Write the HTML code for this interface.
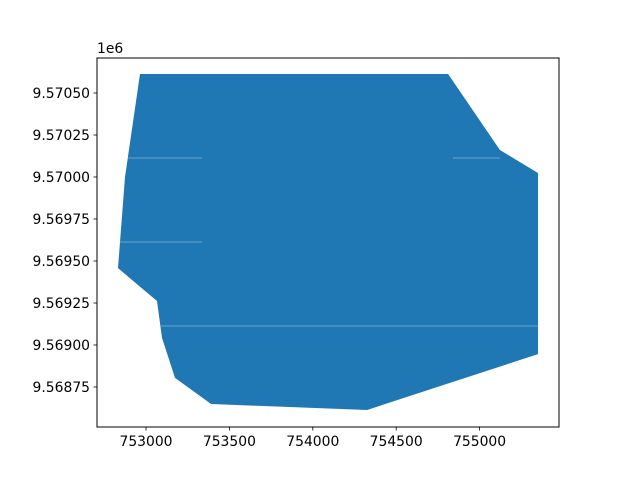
<!DOCTYPE html>
<html><head><meta charset="utf-8"><style>
body{margin:0;background:#fff;}
svg{display:block;font-family:"DejaVu Sans","Liberation Sans",sans-serif;}
</style></head><body>
<svg id="chart" width="640" height="480"></svg>
<script>
const xTicks=[753000,753500,754000,754500,755000];
const yTicks=[9568750,9569000,9569250,9569500,9569750,9570000,9570250,9570500];
const yTickLabels=["9.56875","9.56900","9.56925","9.56950","9.56975","9.57000","9.57025","9.57050"];
const polyX=[752964,754811,755122,755350,755350,754325,753390,753174,753096,753066,752832,752874];
const polyY=[9570613,9570613,9570161,9570024,9568946,9568613,9568649,9568804,9569042,9569262,9569458,9570000];
const seamY=[9570113,9570113,9569613,9569113];
const seamX0=[752880,754840,752838,753090];
const seamX1=[753336,755122,753336,755350];

const L=97,R=559,T=58,B=427;
const sx=v=>146+(v-753000)*0.1668;
const sy=v=>93-(v-9570500)*0.168;
const NS="http://www.w3.org/2000/svg";
const svg=document.getElementById('chart');
function mk(t,a){const e=document.createElementNS(NS,t);for(const k in a)e.setAttribute(k,a[k]);svg.appendChild(e);return e;}

let pts=polyX.map((x,i)=>sx(x).toFixed(1)+","+sy(polyY[i]).toFixed(1)).join(" ");
const poly=mk('polygon',{points:pts,fill:'#1f77b4'});


for(let i=0;i<seamY.length;i++){
  const l=mk('line',{x1:sx(seamX0[i]),x2:sx(seamX1[i]),y1:sy(seamY[i]),y2:sy(seamY[i]),stroke:'rgba(255,255,255,0.45)','stroke-width':0.8});
  
  
}
const fr=mk('rect',{x:L,y:T,width:R-L,height:B-T,fill:'none',stroke:'#000','stroke-width':1});


xTicks.forEach(v=>{
  const x=sx(v);
  const t=mk('line',{x1:x,x2:x,y1:B,y2:B+3.5,stroke:'#000','stroke-width':0.8});
  
  
  const tx=mk('text',{x:x,y:B+19,'font-size':13.9,'text-anchor':'middle'});
  tx.textContent=String(v);
  
  
});
yTicks.forEach((v,i)=>{
  const y=sy(v);
  const t=mk('line',{x1:L-3.5,x2:L,y1:y,y2:y,stroke:'#000','stroke-width':0.8});
  
  
  const tx=mk('text',{x:L-7,y:y+5,'font-size':13.9,'text-anchor':'end'});
  tx.textContent=yTickLabels[i];
  
  
});
const off=mk('text',{x:L,y:T-5,'font-size':13.9});
off.textContent="1e6";


</script>
</body></html>
